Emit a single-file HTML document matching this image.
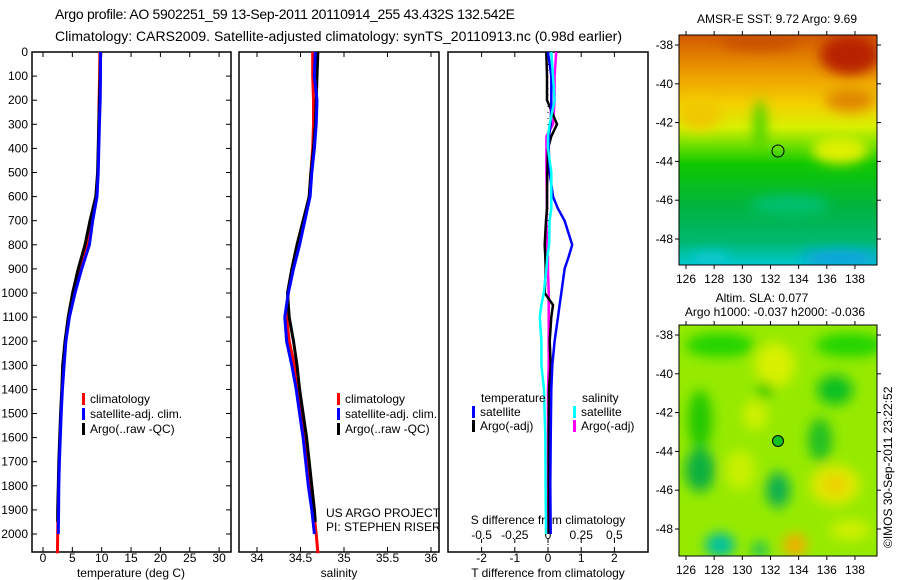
<!DOCTYPE html>
<html><head><meta charset="utf-8">
<style>
html,body{margin:0;padding:0;background:#fff;}
svg{display:block;font-family:"Liberation Sans",sans-serif;}
text{font-size:12px;fill:#000;}
</style></head>
<body>
<svg id="fig" width="900" height="580" viewBox="0 0 900 580" xmlns="http://www.w3.org/2000/svg">
<defs>
  <filter id="blur4" x="-50%" y="-50%" width="200%" height="200%"><feGaussianBlur stdDeviation="6"/></filter>
  <linearGradient id="sstGrad" x1="0" y1="0" x2="0" y2="1">
    <stop offset="0" stop-color="#d05800"/>
    <stop offset="0.08" stop-color="#e07a00"/>
    <stop offset="0.2" stop-color="#f0a800"/>
    <stop offset="0.3" stop-color="#f4d000"/>
    <stop offset="0.4" stop-color="#d8f000"/>
    <stop offset="0.48" stop-color="#70e000"/>
    <stop offset="0.56" stop-color="#10c800"/>
    <stop offset="0.75" stop-color="#00b440"/>
    <stop offset="0.9" stop-color="#00b870"/>
    <stop offset="1" stop-color="#00c8d0"/>
  </linearGradient>
  <clipPath id="clipTop"><rect x="679" y="35" width="198" height="230"/></clipPath>
  <clipPath id="clipBot"><rect x="679" y="325" width="198" height="231"/></clipPath>
</defs>

<text x="55" y="19" textLength="460" style="font-size:14px">Argo profile: AO 5902251_59 13-Sep-2011 20110914_255 43.432S 132.542E</text>
<text x="55" y="41" textLength="567" style="font-size:14px">Climatology: CARS2009. Satellite-adjusted climatology: synTS_20110913.nc (0.98d earlier)</text>

<g id="p1"></g>
<g id="p2"></g>
<g id="p3"></g>

<!-- SST map -->
<g>
  <text x="777" y="23" text-anchor="middle">AMSR-E SST: 9.72 Argo: 9.69</text>
  <g clip-path="url(#clipTop)">
    <rect x="679" y="35" width="198" height="230" fill="url(#sstGrad)"/>
    <g filter="url(#blur4)">
      <ellipse cx="850" cy="55" rx="30" ry="20" fill="#b82000"/>
      <ellipse cx="760" cy="42" rx="40" ry="8" fill="#c85000"/>
      <ellipse cx="850" cy="100" rx="25" ry="12" fill="#e08800"/>
      <ellipse cx="840" cy="150" rx="28" ry="14" fill="#e0f000"/>
      <ellipse cx="760" cy="125" rx="6" ry="25" fill="#40d000"/>
      <ellipse cx="700" cy="115" rx="22" ry="15" fill="#f0c800"/>
      <ellipse cx="790" cy="205" rx="40" ry="10" fill="#00c070"/>
      <ellipse cx="840" cy="258" rx="40" ry="8" fill="#10a0e0"/>
      <ellipse cx="710" cy="258" rx="20" ry="6" fill="#10c8d8"/>
    </g>
  </g>
  <rect x="679" y="35" width="198" height="230" fill="none" stroke="#000"/>
  <circle cx="778" cy="151" r="6" fill="none" stroke="#000"/>
  <g id="mapTopAxes"></g>
</g>

<!-- SLA map -->
<g>
  <text x="762" y="302" text-anchor="middle">Altim. SLA: 0.077</text>
  <text x="775" y="316" text-anchor="middle">Argo h1000: -0.037 h2000: -0.036</text>
  <g clip-path="url(#clipBot)">
    <rect x="679" y="325" width="198" height="231" fill="#96ea00"/>
    <g filter="url(#blur4)">
      <ellipse cx="720" cy="345" rx="35" ry="12" fill="#20d400"/>
      <ellipse cx="850" cy="345" rx="35" ry="12" fill="#20d400"/>
      <ellipse cx="775" cy="365" rx="20" ry="22" fill="#d8f000"/>
      <ellipse cx="835" cy="390" rx="18" ry="15" fill="#10c020"/>
      <ellipse cx="765" cy="390" rx="8" ry="8" fill="#20c800"/>
      <ellipse cx="700" cy="420" rx="12" ry="30" fill="#20c800"/>
      <ellipse cx="755" cy="415" rx="12" ry="15" fill="#d0f000"/>
      <ellipse cx="820" cy="440" rx="12" ry="22" fill="#20c020"/>
      <ellipse cx="700" cy="470" rx="15" ry="22" fill="#10b040"/>
      <ellipse cx="740" cy="470" rx="15" ry="20" fill="#c8f000"/>
      <ellipse cx="778" cy="490" rx="12" ry="18" fill="#10b050"/>
      <ellipse cx="835" cy="485" rx="25" ry="20" fill="#e0e800"/>
      <ellipse cx="835" cy="485" rx="10" ry="8" fill="#f0c800"/>
      <ellipse cx="720" cy="545" rx="15" ry="12" fill="#00c0a0"/>
      <ellipse cx="795" cy="545" rx="12" ry="12" fill="#f0b000"/>
      <ellipse cx="850" cy="530" rx="20" ry="10" fill="#d0f000"/>
      <ellipse cx="760" cy="550" rx="8" ry="8" fill="#10c060"/>
    </g>
  </g>
  <rect x="679" y="325" width="198" height="231" fill="none" stroke="#000"/>
  <circle cx="778" cy="441" r="5.5" fill="#10c020" stroke="#000"/>
  <g id="mapBotAxes"></g>
  <text transform="translate(892,548) rotate(-90)">©IMOS 30-Sep-2011 23:22:52</text>
</g>

<script>
// ---------- data ----------
const depthTicks = [0,100,200,300,400,500,600,700,800,900,1000,1100,1200,1300,1400,1500,1600,1700,1800,1900,2000];
const tempTicks = [0,5,10,15,20,25,30];
const salTicks = [34,34.5,35,35.5,36];
const salTickLabels = ["34","34.5","35","35.5","36"];
const tdiffTicks = [-2,-1,0,1,2];
const sdiffTicks = [-0.5,-0.25,0,0.25,0.5];
const sdiffTickLabels = ["-0.5","-0.25","0","0.25","0.5"];

const profDepth = [0,100,200,300,400,500,600,700,800,900,1000,1100,1200,1300,1400,1500,1600,1700,1800,1900,2000];
const climDepth = [0,100,200,300,400,500,600,700,800,900,1000,1100,1200,1300,1400,1500,1600,1700,1800,1900,2000,2080];
const argoDepth = [0,100,200,300,400,500,600,700,800,900,1000,1100,1200,1300,1400,1500,1600,1700,1800,1900,1950];

const tempClim = [9.7,9.65,9.55,9.5,9.45,9.35,9.1,8.2,7.4,6.2,5.2,4.4,3.8,3.45,3.25,3.05,2.9,2.75,2.65,2.55,2.5,2.45];
const tempSat  = [9.8,9.8,9.75,9.6,9.5,9.4,9.2,8.46,7.9,6.6,5.45,4.5,3.9,3.6,3.3,3.1,2.95,2.8,2.7,2.65,2.6];
const tempArgo = [9.8,9.75,9.6,9.5,9.4,9.3,9.0,8.0,7.15,6.0,5.05,4.3,3.75,3.35,3.2,3.0,2.85,2.7,2.6,2.5,2.5];

const salClim = [34.64,34.64,34.65,34.65,34.64,34.62,34.60,34.55,34.48,34.41,34.36,34.34,34.37,34.43,34.47,34.51,34.55,34.58,34.61,34.65,34.68,34.70];
const salSat  = [34.67,34.66,34.69,34.68,34.66,34.63,34.61,34.55,34.49,34.42,34.36,34.32,34.34,34.40,34.45,34.49,34.53,34.56,34.59,34.63,34.66];
const salArgo = [34.70,34.69,34.68,34.67,34.65,34.62,34.60,34.53,34.46,34.40,34.35,34.37,34.42,34.46,34.49,34.53,34.57,34.60,34.63,34.66,34.67];

const diffDepth = [0,100,200,300,350,400,500,600,650,700,800,850,900,1000,1050,1100,1200,1300,1400,1600,1800,2000];
const dTsat  = [0,0.1,0.1,0.08,0.03,0.02,0.05,0.15,0.3,0.5,0.73,0.62,0.5,0.4,0.35,0.3,0.2,0.13,0.1,0.08,0.07,0.08];
const dTargo = [-0.05,-0.03,-0.03,0.27,0.1,0,-0.02,-0.03,-0.03,-0.06,-0.1,-0.08,-0.07,-0.1,0.15,0.1,0.05,0.08,0.03,0.02,0.02,0.02];
const dSsat  = [0.025,0.038,0.05,0.012,0,0,0.025,0.025,0.025,0.012,0.008,-0.005,-0.012,-0.032,-0.05,-0.062,-0.05,-0.05,-0.03,-0.02,-0.018,-0.015];
const dSargo = [0.062,0.05,0.05,0.038,-0.012,-0.012,-0.012,-0.008,-0.008,-0.012,-0.008,0,0,0.005,0.005,0.005,0.005,0.005,0,0,0,0];

const lonTicks = [126,128,130,132,134,136,138];
const latTicks = [-38,-40,-42,-44,-46,-48];

// ---------- helpers ----------
const NS = "http://www.w3.org/2000/svg";
function mk(parent, tag, attrs, txt){
  const e = document.createElementNS(NS, tag);
  for (const k in attrs) e.setAttribute(k, attrs[k]);
  if (txt !== undefined) e.textContent = txt;
  parent.appendChild(e);
  return e;
}
const TOP = 52, BOT = 552;
function yDepth(d){ return TOP + d * 0.241; }
function linX(x0, v0, scale){ return v => x0 + (v - v0) * scale; }

function panelFrame(g, L, R){
  mk(g, "rect", {x:L, y:TOP, width:R-L, height:BOT-TOP, fill:"none", stroke:"#000", "stroke-width":1.5});
}
function xAxis(g, xs, vals, labels, withTop){
  vals.forEach((v,i)=>{
    const x = xs(v);
    mk(g,"line",{x1:x,y1:BOT,x2:x,y2:BOT-5,stroke:"#000"});
    if (withTop) mk(g,"line",{x1:x,y1:TOP,x2:x,y2:TOP+5,stroke:"#000"});
    const t = mk(g,"text",{x:x,y:562,"text-anchor":"middle"}, labels[i]);
    
    
  });
}
function series(g, xs, vals, depths, color, name, w){
  const pts = vals.map((v,i)=> xs(v).toFixed(1)+","+yDepth(depths[i]).toFixed(1)).join(" ");
  const p = mk(g,"polyline",{points:pts,fill:"none",stroke:color,"stroke-width":w||3,"stroke-linejoin":"round"});
  
  
}
function legendItem(g, x, y, color, label){
  mk(g,"rect",{x:x,y:y-10,width:3,height:12,fill:color});
  const t = mk(g,"text",{x:x+8,y:y}, label);
  
  
}

// ---------- panel 1 temperature ----------
(function(){
  const g = document.getElementById("p1");
  const L=32, R=231, xs = linX(43, 0, 5.87);
  panelFrame(g, L, R);
  depthTicks.forEach(d=>{
    const y = yDepth(d);
    mk(g,"line",{x1:L,y1:y,x2:L+5,y2:y,stroke:"#000"});
    mk(g,"line",{x1:R,y1:y,x2:R-5,y2:y,stroke:"#000"});
    const t = mk(g,"text",{x:28,y:y+4,"text-anchor":"end"}, String(d));
    
    
  });
  xAxis(g, xs, tempTicks, tempTicks.map(String), true);
  const xl = mk(g,"text",{x:131,y:577,"text-anchor":"middle"},"temperature (deg C)");
  
  
  series(g, xs, tempClim, climDepth, "#ff0000", "temp-climatology-line");
  series(g, xs, tempArgo, argoDepth, "#000000", "temp-argo-line");
  series(g, xs, tempSat, profDepth, "#0000ff", "temp-satellite-line");
  legendItem(g, 82, 403, "#ff0000", "climatology");
  legendItem(g, 82, 418, "#0000ff", "satellite-adj. clim.");
  legendItem(g, 82, 433, "#000000", "Argo(..raw -QC)");
})();

// ---------- panel 2 salinity ----------
(function(){
  const g = document.getElementById("p2");
  const L=239, R=439, xs = linX(257, 34, 87);
  panelFrame(g, L, R);
  xAxis(g, xs, salTicks, salTickLabels, true);
  const xl = mk(g,"text",{x:339,y:577,"text-anchor":"middle"},"salinity");
  
  
  series(g, xs, salClim, climDepth, "#ff0000", "sal-climatology-line");
  series(g, xs, salArgo, argoDepth, "#000000", "sal-argo-line");
  series(g, xs, salSat, profDepth, "#0000ff", "sal-satellite-line");
  legendItem(g, 337, 403, "#ff0000", "climatology");
  legendItem(g, 337, 418, "#0000ff", "satellite-adj. clim.");
  legendItem(g, 337, 433, "#000000", "Argo(..raw -QC)");
  const a = mk(g,"text",{x:326,y:517},"US ARGO PROJECT");
  
  
  const b = mk(g,"text",{x:326,y:531},"PI: STEPHEN RISER");
  
  
})();

// ---------- panel 3 differences ----------
(function(){
  const g = document.getElementById("p3");
  const L=448, R=648, xt = linX(548, 0, 33.2), xsS = linX(548, 0, 132.8);
  panelFrame(g, L, R);
  tdiffTicks.forEach(v=>{
    const x = xt(v);
    mk(g,"line",{x1:x,y1:BOT,x2:x,y2:BOT-5,stroke:"#000"});
    mk(g,"line",{x1:x,y1:TOP,x2:x,y2:TOP+5,stroke:"#000"});
    const t = mk(g,"text",{x:x,y:562,"text-anchor":"middle"}, String(v));
    
    
  });
  sdiffTicks.forEach((v,i)=>{
    const x = xsS(v);
    mk(g,"line",{x1:x,y1:539,x2:x,y2:543,stroke:"#000"});
    const t = mk(g,"text",{x:x,y:539,"text-anchor":"middle"}, sdiffTickLabels[i]);
    
    
  });
  const st = mk(g,"text",{x:548,y:524,"text-anchor":"middle"},"S difference from climatology");
  
  
  const tt = mk(g,"text",{x:548,y:577,"text-anchor":"middle"},"T difference from climatology");
  
  
  mk(g,"line",{x1:548,y1:TOP,x2:548,y2:BOT,stroke:"#000","stroke-dasharray":"1,5"});
  series(g, xsS, dSargo, diffDepth, "#ff00ff", "sdiff-argo-line", 2.5);
  series(g, xt, dTargo, diffDepth, "#000000", "tdiff-argo-line", 2.5);
  series(g, xt, dTsat, diffDepth, "#0000ff", "tdiff-satellite-line", 2.5);
  series(g, xsS, dSsat, diffDepth, "#00ffff", "sdiff-satellite-line", 2.5);
  const lt = mk(g,"text",{x:481,y:402},"temperature");
  
  
  const ls = mk(g,"text",{x:582,y:402},"salinity");
  
  
  legendItem(g, 472, 416, "#0000ff", "satellite");
  legendItem(g, 472, 430, "#000000", "Argo(-adj)");
  legendItem(g, 573, 416, "#00ffff", "satellite");
  legendItem(g, 573, 430, "#ff00ff", "Argo(-adj)");
})();

// ---------- map axes ----------
function mapAxes(id, T, B){
  const g = document.getElementById(id);
  const L=679, R=877;
  const lx = linX(686, 126, 14.08);
  const ly = v => T + 10 + (-38 - v) * 19.4;
  lonTicks.forEach(v=>{
    const x = lx(v);
    mk(g,"line",{x1:x,y1:T,x2:x,y2:T-4,stroke:"#000"});
    mk(g,"line",{x1:x,y1:B,x2:x,y2:B+4,stroke:"#000"});
    const t = mk(g,"text",{x:x,y:B+18,"text-anchor":"middle"}, String(v));
    
    
  });
  latTicks.forEach(v=>{
    const y = ly(v);
    mk(g,"line",{x1:L,y1:y,x2:L-4,y2:y,stroke:"#000"});
    mk(g,"line",{x1:R,y1:y,x2:R+4,y2:y,stroke:"#000"});
    const t = mk(g,"text",{x:673,y:y+4,"text-anchor":"end"}, String(v));
    
    
  });
}
mapAxes("mapTopAxes", 35, 265);
mapAxes("mapBotAxes", 325, 556);
</script>
</svg>
</body></html>
